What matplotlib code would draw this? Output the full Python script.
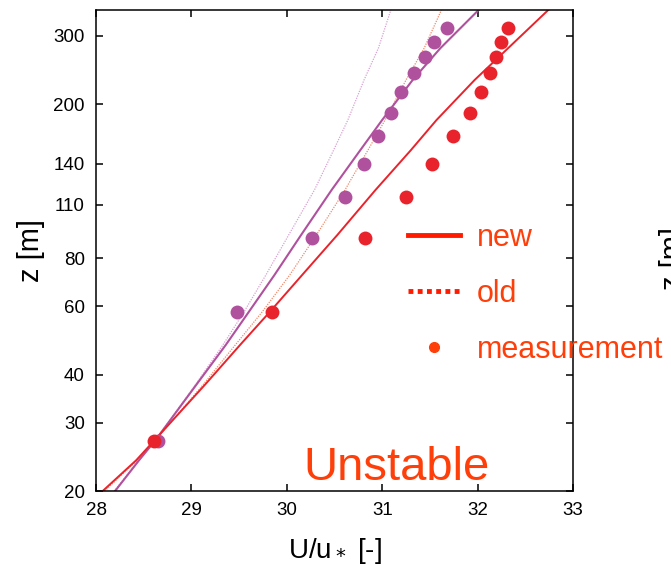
import matplotlib
matplotlib.use("Agg")
import matplotlib.pyplot as plt
from matplotlib.lines import Line2D
import matplotlib.ticker as mticker

# ---- data ----
z_curve = [20, 24, 27, 37.6, 47.7, 58, 72.3, 91.8, 120, 152, 182, 231, 279, 350]
u_new_red = [28.07, 28.42, 28.61, 29.14, 29.51, 29.82, 30.16, 30.53, 30.93, 31.30, 31.57, 31.97, 32.32, 32.74]
u_new_purple = [28.20, 28.45, 28.62, 29.05, 29.36, 29.60, 29.87, 30.15, 30.47, 30.77, 31.00, 31.32, 31.61, 32.01]
u_old_red = [28.09, 28.43, 28.62, 29.12, 29.46, 29.74, 30.03, 30.31, 30.61, 30.85, 31.03, 31.25, 31.44, 31.62]
u_old_purple = [28.19, 28.45, 28.62, 29.04, 29.33, 29.55, 29.78, 30.02, 30.29, 30.49, 30.64, 30.81, 30.96, 31.09]

z_meas = [27, 58, 90, 115, 140, 165, 190, 215, 240, 265, 290, 315]
u_meas_purple = [28.65, 29.48, 30.26, 30.61, 30.81, 30.96, 31.09, 31.20, 31.33, 31.45, 31.54, 31.68]
u_meas_red = [28.61, 29.84, 30.82, 31.25, 31.52, 31.74, 31.92, 32.04, 32.13, 32.19, 32.24, 32.32]

x_ticks = [28, 29, 30, 31, 32, 33]
y_ticks = [20, 30, 40, 60, 80, 110, 140, 200, 300]
legend_labels = ["new", "old", "measurement"]
panel_text = "Unstable"

RED = "#e8232b"
PURPLE = "#b0519e"
OLD_RED = "#f2896a"
OLD_PURPLE = "#d8a2d2"
TXT = "#ff3f0a"

plt.rcParams['font.family'] = ['Liberation Sans', 'DejaVu Sans']

fig = plt.figure(figsize=(6.71, 5.66), dpi=100)
ax = fig.add_axes([0.1431, 0.1325, 0.7109, 0.8498])

ax.plot(u_old_purple, z_curve, color=OLD_PURPLE, lw=0.9, ls=(0, (1, 1)))
ax.plot(u_old_red, z_curve, color=OLD_RED, lw=0.9, ls=(0, (1, 1)))
ax.plot(u_new_purple, z_curve, color=PURPLE, lw=1.5)
ax.plot(u_new_red, z_curve, color=RED, lw=1.4)
ax.scatter(u_meas_purple, z_meas, s=100, color=PURPLE, zorder=3, linewidths=0)
ax.scatter(u_meas_red, z_meas, s=100, color=RED, zorder=4, linewidths=0)

ax.set_yscale('log')
ax.set_xlim(28, 33)
ax.set_ylim(20, 350)
ax.set_xticks(x_ticks)
ax.set_xticklabels([str(t) for t in x_ticks])
ax.yaxis.set_major_locator(mticker.FixedLocator(y_ticks))
ax.yaxis.set_major_formatter(mticker.FixedFormatter([str(t) for t in y_ticks]))
ax.yaxis.set_minor_locator(mticker.NullLocator())
ax.tick_params(direction='in', length=5, width=1.1, top=True, right=True,
               labelsize=13.5)
ax.tick_params(axis='y', pad=8)
ax.tick_params(axis='x', pad=8)
for s in ax.spines.values():
    s.set_linewidth(1.1)

ax.set_xlabel(r"U/u$_*$ [-]", fontsize=20, labelpad=12)
ax.set_ylabel("z [m]", fontsize=21, labelpad=6)

handles = [
    Line2D([], [], color="#ff1a00", lw=3.5),
    Line2D([], [], color="#ff1a00", lw=3.5, ls=(0, (1, 0.9))),
    Line2D([], [], color=TXT, ls='none', marker='o', markersize=7),
]
leg = fig.legend(handles, legend_labels, loc='center left',
                 bbox_to_anchor=(408 / 671, 1 - 294 / 566), frameon=False,
                 handlelength=1.7, handletextpad=0.55,
                 labelspacing=0.85, borderpad=0, borderaxespad=0,
                 prop={'family': ['Liberation Sans', 'DejaVu Sans'], 'size': 22})
for t in leg.get_texts():
    t.set_color(TXT)

ax.text(0.63, 0.023, panel_text, transform=ax.transAxes, color=TXT,
        fontsize=34, ha='center', va='baseline')

# clipped label of the neighbouring panel
fig.text(659 / 671, 1 - 258 / 566, "z [m]", rotation=90, ha='left', va='center',
         fontsize=21)

fig.savefig("out.png", dpi=100)
